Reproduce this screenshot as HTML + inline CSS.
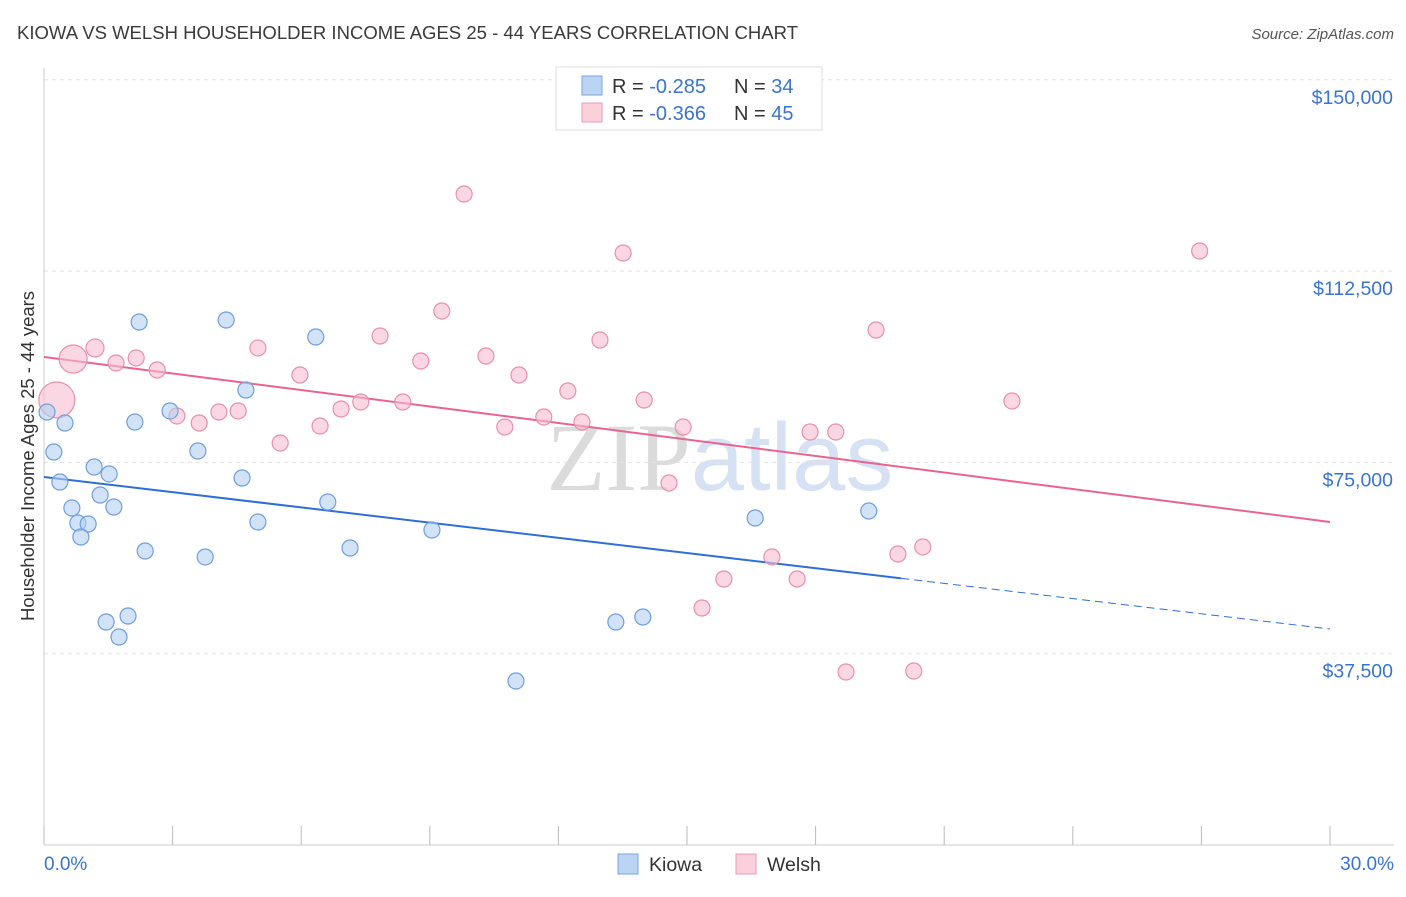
<!DOCTYPE html>
<html><head><meta charset="utf-8"><style>
body{margin:0;background:#fff;font-family:"Liberation Sans",sans-serif}
svg text{font-family:"Liberation Sans",sans-serif}
</style></head><body>
<svg id="chart" width="1406" height="892" xmlns="http://www.w3.org/2000/svg">
<text x="17" y="39" font-size="18.5" fill="#3a3a3a" textLength="781">KIOWA VS WELSH HOUSEHOLDER INCOME AGES 25 - 44 YEARS CORRELATION CHART</text>
<text x="1394" y="39" font-size="15" fill="#555" font-style="italic" text-anchor="end">Source: ZipAtlas.com</text>
<text x="720" y="490" font-size="96" text-anchor="middle" fill="#ddd" opacity="0.7"><tspan font-family="Liberation Serif" fill="#ccc">ZIP</tspan><tspan fill="#c5d6ee">atlas</tspan></text>
<g id="grid"></g>
<g id="axes"></g>
<g id="lines"></g>
<g id="points"></g>
<text transform="translate(34,456) rotate(-90)" font-size="18.5" fill="#333" text-anchor="middle">Householder Income Ages 25 - 44 years</text>
<text x="44" y="870" font-size="19" fill="#3a74d0">0.0%</text>
<text x="1394" y="870" font-size="19" fill="#3a74d0" text-anchor="end">30.0%</text>
<g>
<rect x="556" y="67" width="266" height="63" fill="#fff" stroke="#ddd"/>
<rect x="582" y="76" width="20" height="19" fill="#bcd4f4" stroke="#7aa6e0"/>
<rect x="582" y="103" width="20" height="19" fill="#fbd0dd" stroke="#ee9ab5"/>
<text x="612" y="93" font-size="20" fill="#333">R = <tspan fill="#3a74d0">-0.285</tspan></text>
<text x="734" y="93" font-size="20" fill="#333">N = <tspan fill="#3a74d0">34</tspan></text>
<text x="612" y="120" font-size="20" fill="#333">R = <tspan fill="#3a74d0">-0.366</tspan></text>
<text x="734" y="120" font-size="20" fill="#333">N = <tspan fill="#3a74d0">45</tspan></text>
</g>
<g><rect x="618" y="854" width="20" height="20" fill="#bcd4f4" stroke="#7aa6e0"/><text x="649" y="871" font-size="19.5" fill="#333">Kiowa</text></g>
<g><rect x="736" y="854" width="20" height="20" fill="#fbd0dd" stroke="#ee9ab5"/><text x="767" y="871" font-size="19.5" fill="#333">Welsh</text></g>
</svg>
<script>
const yTicks=[37500,75000,112500,150000];
const yTickLabels=["$37,500","$75,000","$112,500","$150,000"];
const xTicks=[0,3,6,9,12,15,18,21,24,27,30];
const kiowaX=[0.07,0.49,0.23,0.37,0.65,0.79,1.03,0.86,1.17,1.31,1.52,1.63,1.45,1.75,1.96,2.22,2.12,2.36,2.94,3.59,3.76,4.25,4.71,4.62,4.99,6.34,6.62,7.14,9.05,11.01,13.34,13.97,16.59,19.24];
const kiowaY=[84880,82725,77040,71160,66060,63120,62925,60380,74100,68610,72730,66260,43715,40775,44890,102520,82920,57630,85080,77235,56460,102915,89195,71940,63320,99580,67240,58220,61750,32150,43715,44695,64100,65475];
const welshX=[0.30,0.68,1.19,1.68,2.15,2.64,3.10,3.62,4.08,4.53,4.99,5.51,5.97,6.44,6.93,7.39,7.84,8.37,8.79,9.28,9.80,10.31,10.75,11.08,11.66,12.22,12.55,12.97,13.51,14.00,14.58,14.91,15.35,15.86,16.98,17.57,17.87,18.47,18.71,19.41,19.92,20.29,20.50,22.58,26.96];
const welshY=[87235,95270,97430,94490,95470,93115,84100,82725,84880,85080,97430,78805,92135,82135,85470,86840,99780,86840,94880,104680,127615,95860,81940,92135,83900,89000,82920,98995,116050,87235,70960,81940,46460,52145,56460,52145,80960,80960,33915,100955,57045,34110,58420,87040,116440];
const welshR=[18,14,9,8,8,8,8,8,8,8,8,8,8,8,8,8,8,8,8,8,8,8,8,8,8,8,8,8,8,8,8,8,8,8,8,8,8,8,8,8,8,8,8,8,8];
const kiowaTrend=[72140,42340];
const welshTrend=[95660,63320];
const NS="http://www.w3.org/2000/svg";
const X=p=>44+p/30*1286;
const Y=v=>845-v/37500*191.3;
function mk(t,a,parent){const e=document.createElementNS(NS,t);for(const k in a)e.setAttribute(k,a[k]);document.getElementById(parent).appendChild(e);return e;}
yTicks.forEach((v,i)=>{
 const l=mk('line',{x1:44,x2:1394,y1:Y(v),y2:Y(v),stroke:'#e2e2e2','stroke-dasharray':'4,4'},'grid');
 
 
 const t=mk('text',{x:1393,y:Y(v)+24,'font-size':19.5,fill:'#3a74d0','text-anchor':'end'},'grid');
 t.textContent=yTickLabels[i];
 
 
});
mk('line',{x1:44,x2:44,y1:68,y2:845,stroke:'#ccc'},'axes');
mk('line',{x1:44,x2:1394,y1:845,y2:845,stroke:'#ccc'},'axes');
xTicks.forEach(p=>{
 const t=mk('line',{x1:X(p),x2:X(p),y1:826,y2:845,stroke:'#bbb'},'axes');
 
 
});
function pt(xs,ys,fill,stroke,name,rs){
 xs.forEach((x,i)=>{
  const c=mk('circle',{cx:X(x),cy:Y(ys[i]),r:rs?rs[i]:8,fill:fill,'fill-opacity':0.6,stroke:stroke,'stroke-width':1.2},'points');
  
  
 });
}
pt(welshX,welshY,'#f7bccf','#e890ad','welsh-point',welshR);
pt(kiowaX,kiowaY,'#b4cff2','#6f9fdc','kiowa-point',null);
const kAt=p=>kiowaTrend[0]+(kiowaTrend[1]-kiowaTrend[0])*p/30;
let a=mk('line',{x1:X(0),y1:Y(kAt(0)),x2:X(20),y2:Y(kAt(20)),stroke:'#2f6fd4','stroke-width':2},'lines');


a=mk('line',{x1:X(20),y1:Y(kAt(20)),x2:X(30),y2:Y(kAt(30)),stroke:'#2f6fd4','stroke-width':1,'stroke-dasharray':'8,5'},'lines');


a=mk('line',{x1:X(0),y1:Y(welshTrend[0]),x2:X(30),y2:Y(welshTrend[1]),stroke:'#e8648f','stroke-width':2},'lines');


</script>
</body></html>
